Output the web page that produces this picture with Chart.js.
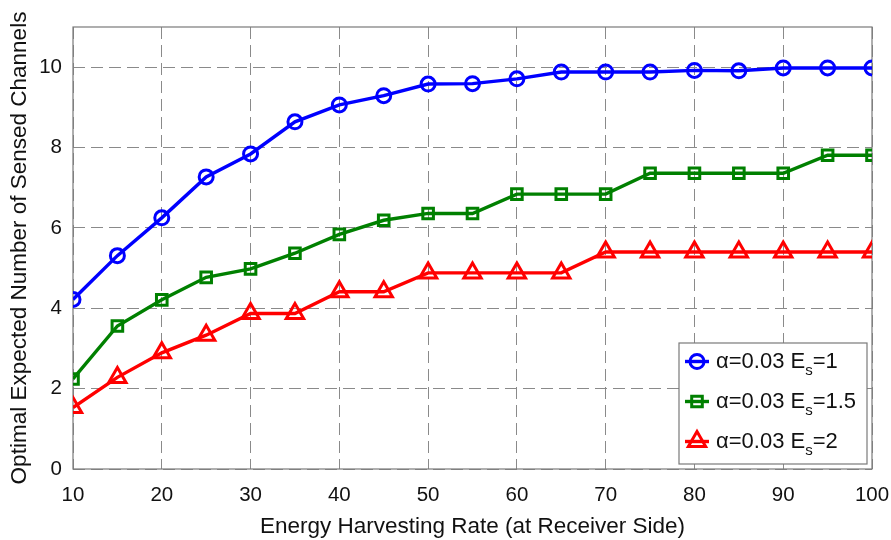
<!DOCTYPE html>
<html>
<head>
<meta charset="utf-8">
<script src="https://cdn.jsdelivr.net/npm/chart.js@4.4.1/dist/chart.umd.min.js"></script>
<style>
  html, body { margin: 0; padding: 0; background: #fff; }
  #wrap { width: 891px; height: 540px; position: relative; }
</style>
</head>
<body>
<div id="wrap"><canvas id="c" width="891" height="540"></canvas></div>
<script>
// Energy harvesting rate (x axis)
const harvestRate = [10, 15, 20, 25, 30, 35, 40, 45, 50, 55, 60, 65, 70, 75, 80, 85, 90, 95, 100];

// Optimal expected number of sensed channels for each sensing energy Es
const sensedEs1   = [4.22, 5.31, 6.25, 7.27, 7.84, 8.64, 9.06, 9.29, 9.58, 9.59, 9.71, 9.88, 9.88, 9.88, 9.92, 9.91, 9.98, 9.98, 9.98];
const sensedEs15  = [2.24, 3.56, 4.21, 4.77, 4.98, 5.37, 5.84, 6.19, 6.36, 6.36, 6.84, 6.84, 6.84, 7.36, 7.36, 7.36, 7.36, 7.81, 7.81];
const sensedEs2   = [1.53, 2.28, 2.89, 3.33, 3.87, 3.87, 4.41, 4.41, 4.88, 4.88, 4.88, 4.88, 5.40, 5.40, 5.40, 5.40, 5.40, 5.40, 5.40];

// Legend text pieces: "α=0.03 E" + subscript "s" + "=value"
const legendPrefix = 'α=0.03 E';
const legendSub = 's';
const legendEs = ['1', '1.5', '2'];

const xTicks = [10, 20, 30, 40, 50, 60, 70, 80, 90, 100];
const yTicks = [0, 2, 4, 6, 8, 10];

const FONT = '"Liberation Sans", Arial, sans-serif';
const GRID = '#8a8a8a';

function series(values) {
  return values.map((v, i) => ({ x: harvestRate[i], y: v }));
}

// Frame around the plot area (all four sides)
const framePlugin = {
  id: 'frame',
  beforeDatasetsDraw(chart) {
    const { ctx, chartArea: a } = chart;
    ctx.save();
    ctx.strokeStyle = '#7a7a7a';
    ctx.lineWidth = 1.2;
    ctx.setLineDash([]);
    ctx.strokeRect(a.left, a.top, a.right - a.left, a.bottom - a.top);
    ctx.restore();
  }
};

// Boxed legend in the lower-right corner with subscripted labels
const legendBoxPlugin = {
  id: 'legendBox',
  afterDraw(chart) {
    const { ctx, chartArea: a } = chart;
    const w = 188, h = 121;
    const right = a.right - 5, bottom = a.bottom - 5;
    const left = right - w, top = bottom - h;
    ctx.save();
    ctx.fillStyle = '#fff';
    ctx.fillRect(left, top, w, h);
    ctx.strokeStyle = '#7a7a7a';
    ctx.lineWidth = 1.2;
    ctx.strokeRect(left, top, w, h);

    chart.data.datasets.forEach((ds, i) => {
      const cy = top + 18.5 + i * 40;
      const x0 = left + 6, x1 = left + 30, cx = (x0 + x1) / 2;
      ctx.strokeStyle = ds.borderColor;
      ctx.lineWidth = ds.borderWidth;
      ctx.beginPath();
      ctx.moveTo(x0, cy);
      ctx.lineTo(x1, cy);
      ctx.stroke();
      ctx.fillStyle = 'rgba(0,0,0,0)';
      ctx.lineWidth = ds.pointBorderWidth;
      Chart.helpers.drawPoint(ctx, {
        pointStyle: ds.pointStyle,
        radius: ds.pointRadius,
        borderWidth: ds.pointBorderWidth,
        rotation: 0
      }, cx, cy);

      ctx.fillStyle = '#111';
      ctx.textBaseline = 'middle';
      ctx.textAlign = 'left';
      let tx = left + 37;
      ctx.font = '22px ' + FONT;
      ctx.fillText(legendPrefix, tx, cy);
      tx += ctx.measureText(legendPrefix).width;
      ctx.font = '15px ' + FONT;
      ctx.fillText(legendSub, tx, cy + 9);
      tx += ctx.measureText(legendSub).width;
      ctx.font = '22px ' + FONT;
      ctx.fillText('=' + legendEs[i], tx, cy);
    });
    ctx.restore();
  }
};

function makeDataset(label, values, color, style, radius) {
  return {
    label,
    data: series(values),
    borderColor: color,
    backgroundColor: 'rgba(0,0,0,0)',
    borderWidth: 3.4,
    pointStyle: style,
    pointRadius: radius,
    pointHoverRadius: radius,
    pointBorderWidth: 3,
    pointBorderColor: color,
    pointBackgroundColor: 'rgba(0,0,0,0)',
    tension: 0,
    fill: false
  };
}

new Chart(document.getElementById('c'), {
  type: 'line',
  data: {
    datasets: [
      makeDataset('α=0.03 Es=1', sensedEs1, '#0000ff', 'circle', 7),
      makeDataset('α=0.03 Es=1.5', sensedEs15, '#008000', 'rect', 7.5),
      makeDataset('α=0.03 Es=2', sensedEs2, '#ff0000', 'triangle', 10)
    ]
  },
  options: {
    responsive: false,
    animation: false,
    layout: { padding: { top: 27, right: 19, left: 0, bottom: 0 } },
    plugins: {
      legend: { display: false },
      tooltip: { enabled: false }
    },
    scales: {
      x: {
        type: 'linear',
        min: 10,
        max: 100,
        afterBuildTicks: s => { s.ticks = xTicks.map(v => ({ value: v })); },
        afterFit: s => { s.height = 71; s.paddingLeft = 0; s.paddingRight = 0; },
        grid: { color: GRID, lineWidth: 1, drawTicks: false },
        border: { display: false, dash: [12, 6] },
        ticks: { color: '#111', font: { family: FONT, size: 20.5 }, padding: 14, maxRotation: 0 },
        title: {
          display: true,
          text: 'Energy Harvesting Rate (at Receiver Side)',
          color: '#111',
          font: { family: FONT, size: 22.5 },
          padding: { top: 0, bottom: 0 }
        }
      },
      y: {
        type: 'linear',
        min: 0,
        max: 11,
        afterBuildTicks: s => { s.ticks = yTicks.map(v => ({ value: v })); },
        afterFit: s => { s.width = 73; s.paddingTop = 0; s.paddingBottom = 0; },
        grid: { color: GRID, lineWidth: 1, drawTicks: false },
        border: { display: false, dash: [12, 6] },
        ticks: { color: '#111', font: { family: FONT, size: 20.5 }, padding: 11 },
        title: {
          display: true,
          text: 'Optimal Expected Number of Sensed Channels',
          color: '#111',
          font: { family: FONT, size: 22.5 },
          padding: { top: 6, bottom: 0 }
        }
      }
    }
  },
  plugins: [framePlugin, legendBoxPlugin]
});
</script>
</body>
</html>
